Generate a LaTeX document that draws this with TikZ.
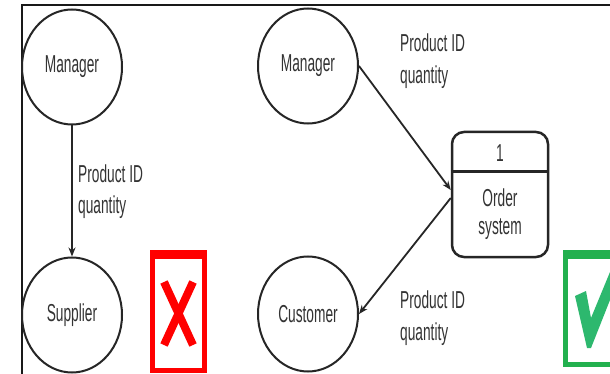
\documentclass[tikz,border=0pt]{standalone}
\usepackage{fontspec}
\setmainfont[FakeStretch=0.56]{Liberation Sans}
\usetikzlibrary{shapes.geometric,arrows.meta,calc}
\definecolor{txtgray}{HTML}{333333}
\definecolor{badred}{HTML}{FF0000}
\definecolor{goodgreen}{HTML}{22B04E}
\definecolor{tickgreen}{HTML}{2DB86E}
\begin{document}
\begin{tikzpicture}[x=1pt,y=-1pt,
  entity/.style={ellipse,draw=black!85,line width=2pt,minimum width=100pt,minimum height=115pt,inner sep=0pt,
    font=\fontsize{24.5}{28}\selectfont,text=txtgray},
  flowlabel/.style={anchor=base west,inner sep=0pt,align=left,font=\fontsize{24.5}{32}\selectfont,text=txtgray},
  flow/.style={line width=1.8pt,draw=black!85,-{Stealth[length=9pt,width=7pt]}},
  boxtext/.style={inner sep=0pt,anchor=base,font=\fontsize{24.5}{28}\selectfont,text=txtgray}]
\useasboundingbox (0,0) rectangle (610,374);
\fill[white] (0,0) rectangle (610,374);
% outer frame (top and left edges)
\draw[line width=2.2pt,black!90] (22,374) -- (22,5) -- (611,5);

% left example: direct flow between two entities
\node[entity] (mgrA) at (72,67) {Manager};
\node[entity] (supA) at (72,315) {Supplier};
\draw[flow] (mgrA.south) -- (supA.north);
\node[flowlabel] (lblA) at (78,214) {Product ID\\quantity};

% red cross panel
\draw[badred,line width=5pt] (152.5,252) rectangle (204,370.5);
\fill[badred] (150,249.5) rectangle (206.5,259);
\draw[badred,line width=8pt] (164,282) -- (193,345);
\draw[badred,line width=8pt] (193,282) -- (164,345);

% right example: flows routed through a process
\node[entity] (mgrB) at (308,66) {Manager};
\node[entity] (cusB) at (308,314) {Customer};
\node[draw=black!85,line width=2.5pt,rounded corners=12pt,minimum width=96pt,minimum height=125pt,inner sep=0pt] (proc) at (500,194.5) {};
\draw[black!85,line width=3pt] (proc.west |- 0,172) -- (proc.east |- 0,172);
\node[boxtext] (procid) at (500,162) {1};
\node[boxtext] (procname) at (500,207) {Order};
\node[boxtext] (procname2) at (500,234) {system};
\draw[flow] (mgrB.east) -- ([yshift=4.5pt]proc.west);
\draw[flow] ([yshift=-3.5pt]proc.west) -- (cusB.east);
\node[flowlabel] (lblB) at (400,84) {Product ID\\quantity};
\node[flowlabel] (lblC) at (400,340) {Product ID\\quantity};

% green tick panel
\draw[goodgreen,line width=5pt] (565.5,252) rectangle (615,364.5);
\fill[goodgreen] (563,249.5) rectangle (612,259);
\fill[tickgreen] (575,296) -- (586,291) -- (591,318) -- (610,272) -- (610,300) -- (591,348) -- (587,348) -- cycle;
\end{tikzpicture}
\end{document}
